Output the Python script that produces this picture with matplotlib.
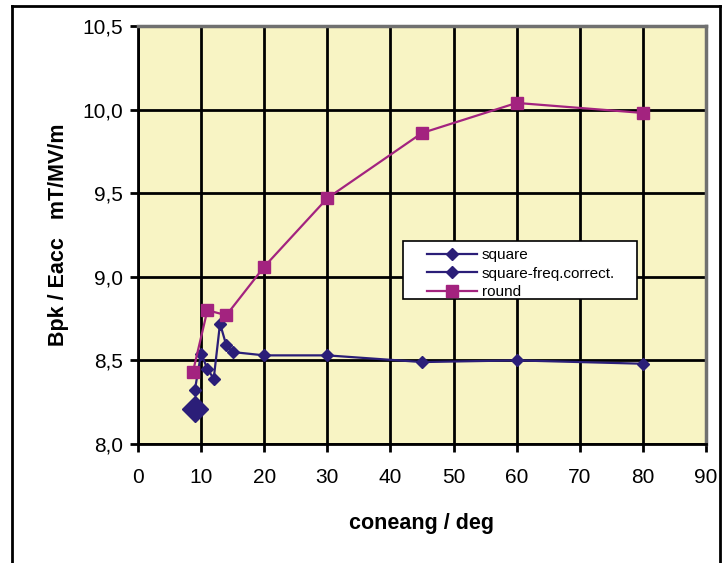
import matplotlib
matplotlib.use("Agg")
import matplotlib.pyplot as plt
from matplotlib.lines import Line2D
from matplotlib.patches import Rectangle
from matplotlib.ticker import FuncFormatter

plt.rcParams['font.family'] = ['Liberation Sans', 'DejaVu Sans']

# data
square_x = [9, 10, 11, 12, 13, 14, 15, 20, 30, 45, 60, 80]
square_y = [8.32, 8.54, 8.45, 8.39, 8.72, 8.59, 8.55, 8.53, 8.53, 8.49, 8.50, 8.48]

freqcorr_x = [9]
freqcorr_y = [8.21]

round_x = [8.7, 11, 14, 20, 30, 45, 60, 80]
round_y = [8.43, 8.80, 8.77, 9.06, 9.47, 9.86, 10.04, 9.98]

x_ticks = [0, 10, 20, 30, 40, 50, 60, 70, 80, 90]
y_ticks = [8.0, 8.5, 9.0, 9.5, 10.0, 10.5]

navy = '#2B1E78'
plum = '#A3237F'

fig = plt.figure(figsize=(7.25, 5.63), dpi=100)
ax = fig.add_axes([0.1903, 0.2114, 0.7835, 0.7424])
ax.set_facecolor('#F8F4C4')

ax.plot(square_x, square_y, color=navy, lw=1.6, marker='D', ms=6,
        label='square', zorder=3)
ax.plot(freqcorr_x, freqcorr_y, color=navy, lw=1.6, marker='D', ms=13,
        label='square-freq.correct.', zorder=3)
ax.plot(round_x, round_y, color=plum, lw=1.6, marker='s', ms=9,
        label='round', zorder=3)

ax.set_xlim(0, 90)
ax.set_ylim(8.0, 10.5)
ax.set_xticks(x_ticks)
ax.set_yticks(y_ticks)
ax.yaxis.set_major_formatter(FuncFormatter(lambda v, p: f"{v:.1f}".replace('.', ',')))
ax.tick_params(direction='out', length=6, width=2, labelsize=15, pad=5)
ax.tick_params(axis='x', pad=11)

ax.grid(True, color='black', lw=2, zorder=1)
ax.set_axisbelow(True)
for s in ['left', 'bottom']:
    ax.spines[s].set_linewidth(2)
    ax.spines[s].set_color('black')
for s in ['top', 'right']:
    ax.spines[s].set_linewidth(2.5)
    ax.spines[s].set_color('#707070')

ax.set_xlabel('coneang / deg', fontsize=15.5, fontweight='bold', labelpad=19)
ax.set_ylabel('Bpk / Eacc   mT/MV/m', fontsize=15.5, fontweight='bold', labelpad=9)

# legend box drawn separately so the inner padding matches
ax.add_patch(Rectangle((0.4665, 0.347), 0.412, 0.1394, transform=ax.transAxes,
                       facecolor='white', edgecolor='black', lw=1.2, zorder=4))
leg = ax.legend(loc='upper left', bbox_to_anchor=(0.5088, 0.469), borderaxespad=0,
                borderpad=0, fontsize=11, handlelength=3.3, handletextpad=0.3,
                labelspacing=0.3, frameon=False)
leg.set_zorder(5)
for h in leg.legend_handles:
    h.set_markersize(6)
leg.legend_handles[2].set_markersize(8)

# outer chart frame
fig.add_artist(Line2D([12 / 725, 12 / 725], [0, 1 - 6 / 563], color='black', lw=2,
                      transform=fig.transFigure))
fig.add_artist(Line2D([12 / 725, 720 / 725], [1 - 6 / 563, 1 - 6 / 563], color='black', lw=2,
                      transform=fig.transFigure))
fig.add_artist(Line2D([720 / 725, 720 / 725], [0, 1 - 6 / 563], color='black', lw=2,
                      transform=fig.transFigure))

fig.savefig('out.png', dpi=100)
